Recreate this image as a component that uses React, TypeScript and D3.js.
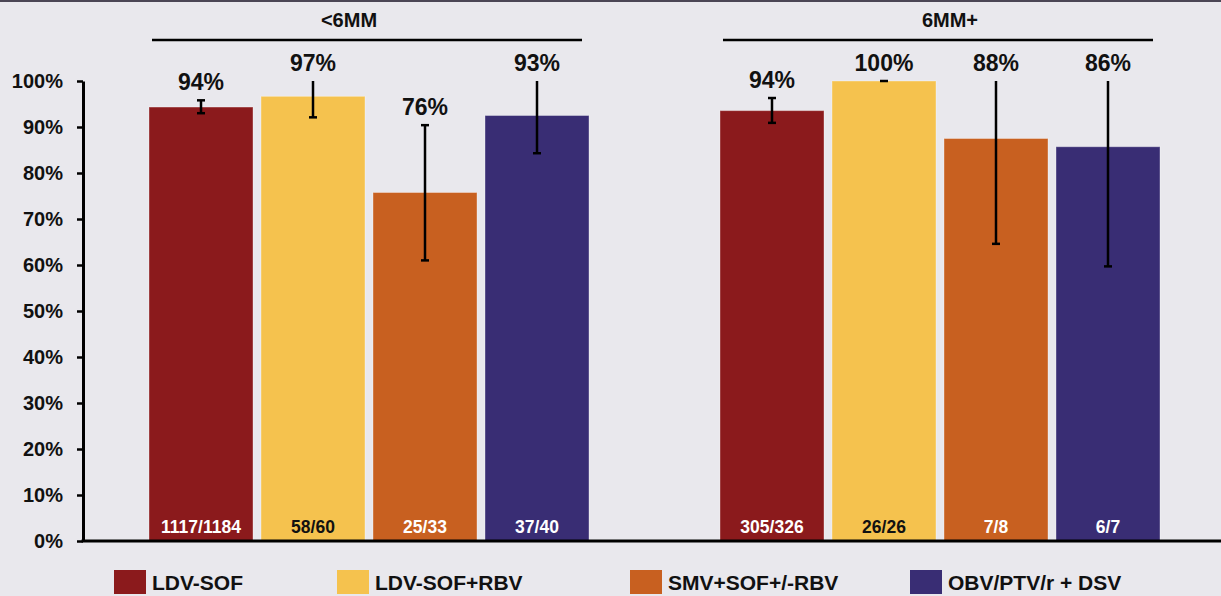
import { useEffect, useRef } from 'react';
import * as d3 from 'd3';

const WIDTH = 1221;
const HEIGHT = 596;
const FONT = '"Liberation Sans", Arial, Helvetica, sans-serif';

// data
const groups = ['<6MM', '6MM+'];
const series = ['LDV-SOF', 'LDV-SOF+RBV', 'SMV+SOF+/-RBV', 'OBV/PTV/r + DSV'];
const colors = ['#8B1A1C', '#F5C24E', '#C86020', '#392D74'];
const countColors = ['#ffffff', '#111111', '#ffffff', '#ffffff'];

const valuesLow = [94.34, 96.67, 75.76, 92.5];
const valuesHigh = [93.56, 100, 87.5, 85.71];
const errLowLow = [93.0, 92.1, 61.0, 84.3];
const errHighLow = [95.8, 100, 90.4, 100];
const errLowHigh = [90.9, 100, 64.6, 59.7];
const errHighHigh = [96.3, 100, 100, 100];
const pctLow = ['94%', '97%', '76%', '93%'];
const pctHigh = ['94%', '100%', '88%', '86%'];
const countsLow = ['1117/1184', '58/60', '25/33', '37/40'];
const countsHigh = ['305/326', '26/26', '7/8', '6/7'];
const yTicks = [0, 10, 20, 30, 40, 50, 60, 70, 80, 90, 100];

const values = [valuesLow, valuesHigh];
const errLo = [errLowLow, errLowHigh];
const errHi = [errHighLow, errHighHigh];
const pcts = [pctLow, pctHigh];
const counts = [countsLow, countsHigh];

// layout
const AXIS_X = 83;
const Y_TOP = 81;
const Y_BOTTOM = 541;
const TITLE_SHIFT = [-20, 10];
const LEGEND_X = [114, 337, 630, 910];

const App = () => {
  const axisRef = useRef(null);

  const yScale = d3.scaleLinear().domain([0, 100]).range([Y_BOTTOM, Y_TOP]);
  const xGroup = d3
    .scaleBand()
    .domain(groups)
    .range([149, 1160])
    .paddingInner(0.2294)
    .paddingOuter(0);
  const xInner = d3
    .scaleBand()
    .domain(series)
    .range([0, xGroup.bandwidth()])
    .paddingInner(0.0714)
    .paddingOuter(0);

  useEffect(() => {
    const g = d3.select(axisRef.current);
    g.selectAll('*').remove();
    const axis = d3
      .axisLeft(yScale)
      .tickValues(yTicks)
      .tickSize(6)
      .tickSizeOuter(0)
      .tickPadding(14)
      .tickFormat((d) => d + '%');
    g.call(axis);
    g.select('.domain').attr('stroke', '#000').attr('stroke-width', 3);
    g.selectAll('.tick line').attr('stroke', '#000').attr('stroke-width', 2.5);
    g.selectAll('.tick text')
      .attr('fill', '#111')
      .style('font-family', FONT)
      .style('font-size', '20px')
      .style('font-weight', 'bold');
  }, []);

  const bars = groups.map((grp, gi) => {
    const gx = xGroup(grp) || 0;
    return series.map((s, si) => {
      const x = gx + (xInner(s) || 0);
      const w = xInner.bandwidth();
      const cx = x + w / 2;
      const v = values[gi][si];
      const lo = errLo[gi][si];
      const hi = errHi[gi][si];
      return (
        <g key={grp + s}>
          <rect
            x={x}
            y={yScale(v)}
            width={w}
            height={yScale(0) - yScale(v)}
            fill={colors[si]}
            stroke="rgba(255,255,255,0.35)"
            strokeWidth={1}
          />
          <line x1={cx} x2={cx} y1={yScale(hi)} y2={yScale(lo)} stroke="#000" strokeWidth={2.5} />
          <line x1={cx - 4} x2={cx + 4} y1={yScale(lo)} y2={yScale(lo)} stroke="#000" strokeWidth={2.5} />
          {hi < 100 && (
            <line x1={cx - 4} x2={cx + 4} y1={yScale(hi)} y2={yScale(hi)} stroke="#000" strokeWidth={2.5} />
          )}
          <text
            x={cx}
            y={yScale(hi) - 10}
            textAnchor="middle"
            fontFamily={FONT}
            fontWeight="bold"
            fontSize={23}
            fill="#111"
          >
            {pcts[gi][si]}
          </text>
          <text
            x={cx}
            y={533}
            textAnchor="middle"
            fontFamily={FONT}
            fontWeight="bold"
            fontSize={17.5}
            fill={countColors[si]}
          >
            {counts[gi][si]}
          </text>
        </g>
      );
    });
  });

  const headers = groups.map((grp, gi) => {
    const gx = xGroup(grp) || 0;
    const gw = xGroup.bandwidth();
    return (
      <g key={grp}>
        <line x1={gx + 3} x2={gx + gw - 7} y1={40} y2={40} stroke="#000" strokeWidth={2.5} />
        <text
          x={gx + gw / 2 + TITLE_SHIFT[gi]}
          y={27}
          textAnchor="middle"
          fontFamily={FONT}
          fontWeight="bold"
          fontSize={20}
          fill="#111"
        >
          {grp}
        </text>
      </g>
    );
  });

  const legend = series.map((s, si) => (
    <g key={s} transform={`translate(${LEGEND_X[si]},570)`}>
      <rect width={32} height={24} fill={colors[si]} />
      <text x={38} y={20} fontFamily={FONT} fontWeight="bold" fontSize={21} fill="#111">
        {s}
      </text>
    </g>
  ));

  return (
    <svg
      width={WIDTH}
      height={HEIGHT}
      style={{ position: 'absolute', left: 0, top: 0, display: 'block' }}
    >
      <rect width={WIDTH} height={HEIGHT} fill="#E9E8ED" />
      <line x1={0} x2={WIDTH} y1={1} y2={1} stroke="#4B4655" strokeWidth={2} />
      {headers}
      {bars}
      <g ref={axisRef} transform={`translate(${AXIS_X},0)`} />
      <line x1={AXIS_X - 1.5} x2={WIDTH} y1={Y_BOTTOM} y2={Y_BOTTOM} stroke="#000" strokeWidth={3} />
      {legend}
    </svg>
  );
};

export default App;
